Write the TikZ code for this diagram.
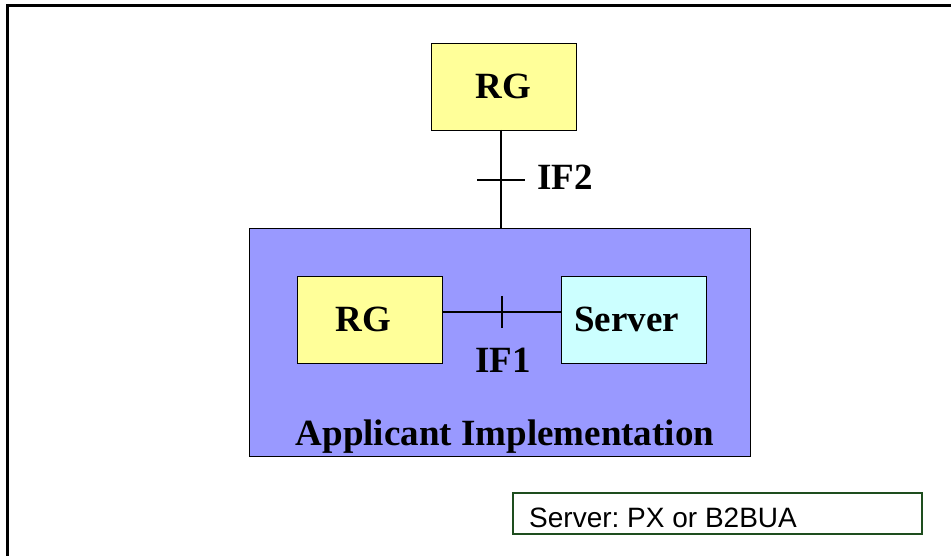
\documentclass[tikz,border=0pt]{standalone}
\usepackage{fontspec}
\setmainfont{Liberation Serif}
\newfontfamily\arialfont{Liberation Sans}
\definecolor{boxyellow}{HTML}{FFFF99}
\definecolor{boxblue}{HTML}{9999FF}
\definecolor{boxcyan}{HTML}{CCFFFF}
\definecolor{legendgreen}{HTML}{1E4D1E}
\frenchspacing
\begin{document}
\begin{tikzpicture}[x=1pt,y=-1pt,
  blockbox/.style={draw=black, line width=0.9pt, rectangle, inner sep=0pt},
  bigtext/.style={font=\fontsize{37}{40}\selectfont\bfseries},
  conn/.style={draw=black, line width=1.3pt},
  legendbox/.style={draw=legendgreen, line width=1.6pt, rectangle, inner sep=0pt, fill=white}]
\useasboundingbox (0,0) rectangle (951,556);
\draw[line width=2.2pt] (7.5,556) -- (7.5,5.5) -- (951,5.5);

% Applicant implementation box
\node[blockbox, fill=boxblue, minimum width=501pt, minimum height=228pt] (app) at (499.5,342) {};
\node[bigtext, anchor=base] (applabel) at (505,445) {Applicant Implementation};

% top RG
\node[blockbox, fill=boxyellow, minimum width=145pt, minimum height=87pt, bigtext] (rgtop) at (503.5,86.5) {RG};

% inner RG and Server
\node[blockbox, fill=boxyellow, minimum width=145pt, minimum height=87pt, bigtext] (rgin) at (369.5,319.5) {\hspace*{-12pt}RG};
\node[blockbox, fill=boxcyan, minimum width=145pt, minimum height=87pt, bigtext] (srv) at (633.5,319.5) {\hspace*{-14pt}\raisebox{-3pt}{Server}};

% IF2 connector
\coordinate (topfoot) at (501,130);
\coordinate (appnorth) at (501,228);
\draw[conn] (topfoot) -- (appnorth);
\coordinate (t2a) at (477,180);
\coordinate (t2b) at (525,180);
\draw[conn] (t2a) -- (t2b);
\node[bigtext, anchor=base west, inner sep=0pt] (if2) at (537,190) {IF2};

% IF1 connector
\draw[conn] (rgin.east |- 0,312) -- (srv.west |- 0,312);
\coordinate (t1a) at (502,296);
\coordinate (t1b) at (502,328);
\draw[conn] (t1a) -- (t1b);
\node[bigtext, anchor=base, inner sep=0pt] (if1) at (503,372) {IF1};

% legend
\node[legendbox, minimum width=409pt, minimum height=41pt] (legend) at (717.5,513.5) {};
\node[anchor=base west, inner sep=0pt, font=\arialfont\fontsize{28}{30}\selectfont] (legendtext) at (529,527) {Server: PX or B2BUA};
\end{tikzpicture}
\end{document}
